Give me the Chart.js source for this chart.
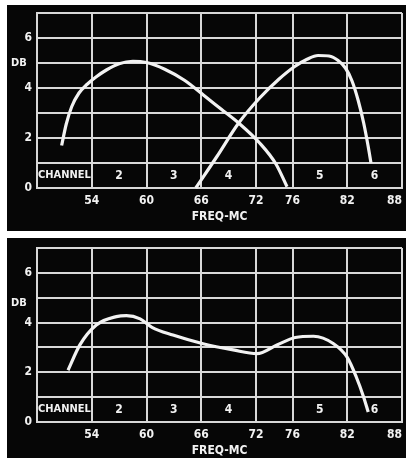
<!DOCTYPE html>
<html lang="en">
<head>
    <meta charset="UTF-8">
    <title>Antenna Gain vs Frequency</title>
    <script src="https://cdn.jsdelivr.net/npm/chart.js"></script>
    <style>
        body { margin: 0; background: #fff; width: 406px; height: 460px; position: relative; overflow: hidden; }
        .panel { position: absolute; left: 7px; width: 399px; background: #060606; }
        #top { top: 5px; height: 226px; }
        #bottom { top: 238px; height: 220px; }
        canvas { display: block; }
    </style>
</head>
<body>
    <div class="panel" id="top"><canvas id="c1" width="399" height="226"></canvas></div>
    <div class="panel" id="bottom"><canvas id="c2" width="399" height="220"></canvas></div>

    <script>
        // tick positions (Mc) and channel labels
        const xTicks = [48, 54, 60, 66, 72, 76, 82, 88];
        const channelNames = ['CHANNEL', '2', '3', '4', '5', '6'];
        const channelFreqs = [51, 57, 63, 69, 79, 85];

        // top panel - channel 2-4 antenna
        const freqA = [50.7, 51.2, 51.8, 52.6, 53.5, 54.5, 55.6, 57.0, 58.5, 60.0, 62.0, 64.2, 66.3, 68.2, 70.1, 72.4, 74.2, 75.4];
        const dbA   = [1.7, 2.55, 3.25, 3.8, 4.15, 4.45, 4.72, 4.97, 5.07, 5.02, 4.75, 4.3, 3.7, 3.15, 2.6, 1.8, 0.95, 0.05];

        // top panel - channel 4-6 antenna
        const freqB = [65.4, 67.7, 70.1, 72.4, 74.5, 76.2, 77.6, 78.8, 80.0, 81.0, 81.8, 82.5, 83.2, 83.8, 84.3, 84.6];
        const dbB   = [0.0, 1.25, 2.6, 3.6, 4.35, 4.85, 5.15, 5.3, 5.28, 5.1, 4.8, 4.3, 3.5, 2.6, 1.65, 1.0];

        // bottom panel - combined
        const freqC = [51.4, 52.7, 54.5, 56.7, 57.8, 59.3, 60.6, 62.9, 66.2, 69.5, 72.1, 74.3, 76.3, 78.3, 80.5, 82.0, 83.0, 83.8, 84.3];
        const dbC   = [2.08, 3.1, 3.9, 4.24, 4.28, 4.15, 3.81, 3.5, 3.15, 2.9, 2.75, 3.1, 3.4, 3.45, 3.15, 2.6, 1.8, 1.0, 0.4];

        const FONT = "'DejaVu Sans Condensed', 'Liberation Sans Narrow', sans-serif";
        const WHITE = '#f2f2f2';
        const GRID = '#d8d8d8';

        function pts(xs, ys) {
            return xs.map((x, i) => ({ x: x, y: ys[i] }));
        }

        function curve(data) {
            return {
                data: data,
                borderColor: WHITE,
                borderWidth: 3.2,
                pointRadius: 0,
                cubicInterpolationMode: 'monotone',
                fill: false,
                clip: false
            };
        }

        // channel row + "DB" label
        const labelsPlugin = {
            id: 'labels',
            afterDraw(chart, args, opts) {
                const ctx = chart.ctx;
                const xs = chart.scales.x, ys = chart.scales.y;
                ctx.save();
                ctx.fillStyle = WHITE;
                ctx.textBaseline = 'middle';
                ctx.textAlign = 'center';
                const yRow = ys.getPixelForValue(0.5);
                channelNames.forEach((name, i) => {
                    ctx.font = 'bold ' + (i === 0 ? 11 : 12) + 'px ' + FONT;
                    ctx.fillText(name, xs.getPixelForValue(channelFreqs[i]), yRow);
                });
                ctx.font = 'bold 11px ' + FONT;
                ctx.fillText('DB', 12, ys.getPixelForValue(opts.dbAt));
                ctx.restore();
            }
        };

        function makeChart(id, datasets, padTop, padBottom, dbAt) {
            return new Chart(document.getElementById(id), {
                type: 'line',
                data: { datasets: datasets },
                plugins: [labelsPlugin],
                options: {
                    responsive: false,
                    animation: false,
                    layout: { padding: { left: 0, right: 4, top: padTop, bottom: padBottom } },
                    plugins: {
                        legend: { display: false },
                        tooltip: { enabled: false },
                        labels: { dbAt: dbAt }
                    },
                    scales: {
                        x: {
                            type: 'linear',
                            min: 48,
                            max: 88,
                            afterBuildTicks: s => { s.ticks = xTicks.map(v => ({ value: v })); },
                            afterFit: s => { s.height = 36; s.paddingLeft = 0; s.paddingRight = 0; },
                            grid: { color: GRID, lineWidth: 2, drawTicks: false },
                            border: { color: GRID, width: 2 },
                            ticks: {
                                color: WHITE,
                                padding: 6,
                                align: 'inner',
                                maxRotation: 0,
                                autoSkip: false,
                                font: { family: FONT, size: 12, weight: 'bold' },
                                callback: v => (v === 48 ? '' : v)
                            },
                            title: {
                                display: true,
                                text: 'FREQ-MC',
                                color: WHITE,
                                padding: { top: 0, bottom: 0 },
                                font: { family: FONT, size: 12, weight: 'bold' }
                            }
                        },
                        y: {
                            min: 0,
                            max: 7,
                            afterFit: s => { s.width = 30; s.paddingTop = 0; s.paddingBottom = 0; },
                            grid: { color: GRID, lineWidth: 2, drawTicks: false },
                            border: { color: GRID, width: 2 },
                            ticks: {
                                stepSize: 1,
                                color: WHITE,
                                padding: 5,
                                font: { family: FONT, size: 12, weight: 'bold' },
                                callback: v => (v % 2 === 0 ? v : '')
                            }
                        }
                    }
                }
            });
        }

        makeChart('c1', [curve(pts(freqA, dbA)), curve(pts(freqB, dbB))], 8, 7, 5);
        makeChart('c2', [curve(pts(freqC, dbC))], 10, 0, 4.8);
    </script>
</body>
</html>
